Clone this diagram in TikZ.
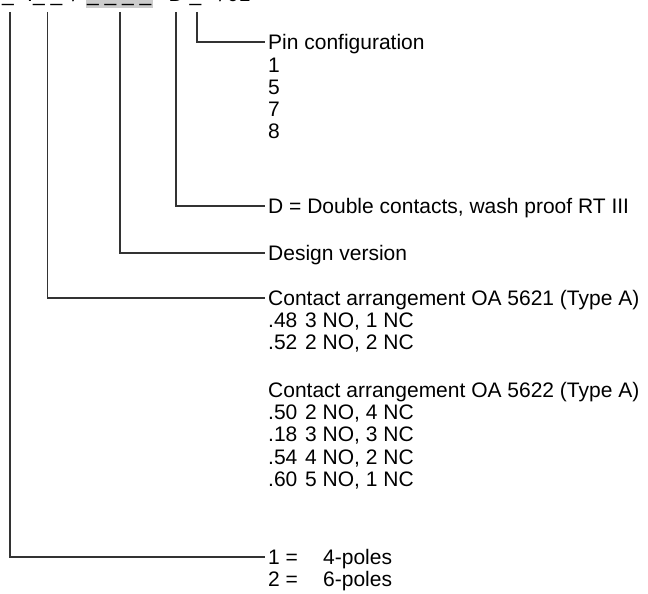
\documentclass[tikz,border=0pt]{standalone}
\usepackage{fontspec}
\setmainfont{Liberation Sans}
\begin{document}
\begin{tikzpicture}[x=1pt,y=-1pt,
  lbl/.style={anchor=west, inner sep=0pt, text height=15pt, text depth=0pt, font=\fontsize{21}{22}\selectfont},
  hdr/.style={anchor=base west, inner sep=0pt, font=\fontsize{21}{22}\selectfont},
  conn/.style={line width=1.5pt, draw=black!80}]
\useasboundingbox (0,0) rectangle (648,594);
\clip (0,0) rectangle (648,594);
% header (cut off at the top)
\fill[black!20] (86,-10) rectangle (153,8);
\node[hdr] (h0) at (-4,2) {.\_};
\node[hdr] (h1) at (27,2) {.\_ \_};
\node[hdr] (h2) at (72,2) {/};
\node[hdr] (h3) at (87,2) {\_ \_ \_ \_};
\node[hdr] (h4) at (168.5,2) {D \_};
\node[hdr] (h5) at (219,2) {/};
\node[hdr] (h6) at (227,2) {01};
% connector tops
\coordinate (tA) at (10,12);
\coordinate (tB) at (47.5,12);
\coordinate (tC) at (120,12);
\coordinate (tD) at (176,12);
\coordinate (tE) at (197,12);
% labels
\node[lbl] (pin) at (268,42) {Pin configuration};
\node[lbl] (p1) at (268,65) {1};
\node[lbl] (p5) at (268,87) {5};
\node[lbl] (p7) at (268,109) {7};
\node[lbl] (p8) at (268,131) {8};
\node[lbl] (dbl) at (268,206) {D = Double contacts, wash proof RT III};
\node[lbl] (des) at (268,253) {Design version};
\node[lbl] (ca1) at (268,298) {Contact arrangement OA 5621 (Type A)};
\node[lbl] (k48) at (268,320) {.48};
\node[lbl] (v48) at (305,320) {3 NO, 1 NC};
\node[lbl] (k52) at (268,342) {.52};
\node[lbl] (v52) at (305,342) {2 NO, 2 NC};
\node[lbl] (ca2) at (268,390) {Contact arrangement OA 5622 (Type A)};
\node[lbl] (k50) at (268,412) {.50};
\node[lbl] (v50) at (305,412) {2 NO, 4 NC};
\node[lbl] (k18) at (268,434) {.18};
\node[lbl] (v18) at (305,434) {3 NO, 3 NC};
\node[lbl] (k54) at (268,457) {.54};
\node[lbl] (v54) at (305,457) {4 NO, 2 NC};
\node[lbl] (k60) at (268,479) {.60};
\node[lbl] (v60) at (305,479) {5 NO, 1 NC};
\node[lbl] (q1) at (268,557) {1 =};
\node[lbl] (w1) at (323,557) {4-poles};
\node[lbl] (q2) at (268,579) {2 =};
\node[lbl] (w2) at (323,579) {6-poles};
% connectors
\draw[conn] (tE) |- ([xshift=-3pt]pin.west);
\draw[conn] (tD) |- ([xshift=-3pt]dbl.west);
\draw[conn] (tC) |- ([xshift=-3pt]des.west);
\draw[conn] (tB) |- ([xshift=-3pt]ca1.west);
\draw[conn] (tA) |- ([xshift=-3pt]q1.west);
\end{tikzpicture}
\end{document}
